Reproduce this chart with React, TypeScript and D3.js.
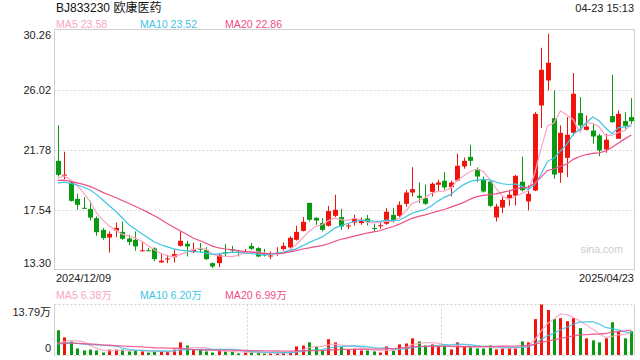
import React from "react";
import * as d3 from "d3";

// ---- data ----
const opens = [20.98,19.95,19.45,18.29,17.66,17.57,16.93,16.10,15.56,16.05,15.96,15.49,15.40,14.62,14.66,14.79,13.80,14.02,14.17,14.97,15.12,14.53,14.78,14.69,13.75,13.75,14.52,14.71,14.55,14.55,14.97,14.81,14.46,14.25,14.42,14.74,14.86,15.40,16.03,18.01,16.95,16.58,16.39,17.09,17.00,16.37,16.62,16.58,16.90,16.24,16.39,16.53,17.16,17.09,17.94,18.74,18.51,18.35,18.79,19.29,19.57,19.12,19.59,20.58,21.26,20.39,19.69,19.52,16.98,17.68,18.35,18.51,19.50,18.11,18.88,24.89,26.66,23.99,20.13,21.19,22.96,24.35,23.17,23.12,22.77,21.78,24.14,22.54,23.79,24.07];
const highs = [23.50,21.62,19.50,18.65,18.42,18.15,17.05,16.22,15.99,16.62,16.69,15.75,15.99,15.31,14.83,14.86,14.46,14.34,14.74,15.99,15.33,15.21,15.17,14.88,13.80,14.46,15.09,14.97,14.69,14.76,15.17,14.88,14.76,14.57,14.88,15.21,15.65,16.39,17.00,18.01,17.00,16.93,17.80,18.58,17.59,16.58,17.16,16.98,17.16,16.53,16.62,17.64,17.66,18.11,18.93,20.53,19.45,19.29,19.45,19.64,20.18,19.57,21.48,21.21,22.11,20.51,19.87,19.64,17.94,18.42,18.93,19.99,21.27,19.24,24.42,28.97,29.96,25.95,23.48,24.07,27.18,25.48,24.18,23.59,22.89,22.89,27.06,24.54,24.42,25.41];
const lows = [19.87,19.69,18.10,17.52,17.60,16.76,15.68,15.40,14.50,15.59,15.40,15.02,14.62,14.57,14.60,13.89,13.78,13.75,13.79,14.93,14.22,14.46,14.46,13.98,13.40,13.47,14.25,14.50,14.22,14.46,14.69,14.17,14.22,14.03,14.27,14.64,14.76,15.35,15.99,16.69,16.46,15.99,16.34,17.00,16.10,16.15,16.41,16.46,16.41,16.01,16.17,16.46,16.62,17.00,17.73,18.46,17.99,17.87,18.46,18.81,18.93,18.46,19.52,20.42,20.63,19.48,18.74,17.71,16.69,17.28,17.80,17.82,18.82,17.47,18.84,23.31,25.95,19.71,19.43,19.83,22.77,23.12,23.12,22.18,21.31,21.55,23.67,22.54,23.24,23.59];
const closes = [19.99,20.00,18.15,17.87,17.62,16.97,15.94,15.52,15.82,16.24,15.47,15.24,14.93,14.66,14.62,14.03,13.92,14.08,14.39,15.33,14.93,14.71,14.74,14.03,13.51,14.34,14.48,14.67,14.47,14.59,14.76,14.22,14.30,14.29,14.48,14.97,15.54,15.96,16.67,16.81,16.76,16.10,17.43,17.52,16.34,16.41,16.90,16.81,16.67,16.20,16.43,17.38,16.81,17.87,18.74,18.98,18.37,17.94,19.36,19.45,19.10,19.45,20.63,20.98,20.98,19.87,18.81,17.80,17.75,18.22,18.58,19.92,18.90,18.65,24.30,27.41,27.91,20.01,22.96,22.82,25.72,23.48,23.40,22.70,21.71,22.47,23.71,24.30,23.45,23.78];
// volume in 万
const volumes = [6.83,4.90,3.80,1.90,1.37,1.60,1.37,0.80,1.60,1.60,1.60,1.10,1.40,1.10,0.80,1.10,1.10,1.10,1.60,3.55,2.70,1.60,1.60,1.10,0.80,1.37,1.10,1.10,0.55,0.80,0.80,0.80,0.55,0.55,0.55,0.80,1.00,2.45,2.70,3.55,2.35,1.37,4.40,3.55,2.25,1.64,1.85,1.37,1.37,1.10,0.80,2.45,1.37,3.00,3.25,4.64,3.80,2.70,3.00,2.45,2.70,1.64,3.55,2.45,2.20,1.90,1.90,2.70,1.64,1.90,1.90,1.90,3.80,3.55,9.84,13.79,12.30,9.84,10.10,9.30,10.10,7.40,4.64,4.10,3.55,4.64,9.00,6.56,4.64,6.56];
// closes / volumes before the visible window (estimated from where the MA curves start)
const priorCloses = [19.6,19.9,20.1,19.8,19.7,20.0,19.9,19.6,19.7,19.7,19.3,19.1,18.9,19.0,18.95,19.2,19.5,19.9,20.16];
const priorVolumes = [3.5,3.8,3.2,3.4,3.6,3.3,3.5,3.7,3.4,3.6,3.2,2.8,3.0,3.1,2.9,2.0,2.5,2.2,2.47];

const priceTicks = [30.26, 26.02, 21.78, 17.54, 13.30];
const volMax = 13.79;
const title = "BJ833230 欧康医药";
const timeLabel = "04-23 15:13";
const startLabel = "2024/12/09";
const endLabel = "2025/04/23";
const priceMaLabels = ["MA5 23.58", "MA10 23.52", "MA20 22.86"];
const volMaLabels = ["MA5 6.38万", "MA10 6.20万", "MA20 6.99万"];
const maPeriods = [5, 10, 20];

const maColors = ["#f9a6c3", "#3fc3e6", "#ee4f86"];
const RED = "#f0140c";
const GREEN = "#0a9a12";
const FONT = "Arial, 'Liberation Sans', 'Noto Sans CJK SC', sans-serif";

function movingAvg(prior: number[], vals: number[], n: number): number[] {
  const all = prior.concat(vals);
  const off = prior.length;
  return vals.map((_, i) => {
    const end = i + off;
    const seg = all.slice(Math.max(0, end - n + 1), end + 1);
    return d3.mean(seg) as number;
  });
}

export default function App() {
  const L = 54.5, R = 634.5, T = 29.5, B = 269.5;
  const VT = 304.5, VB = 355.5;
  const idx = d3.range(closes.length);
  const x = d3.scaleBand<number>().domain(idx).range([L, R]);
  const bw = x.bandwidth();
  const cx = (i: number) => (x(i) as number) + bw / 2;
  const y = d3.scaleLinear().domain([priceTicks[4], priceTicks[0]]).range([B, T]);
  const yv = d3.scaleLinear().domain([0, volMax]).range([VB, VT]);

  const priceMAs = maPeriods.map((n) => movingAvg(priorCloses, closes, n));
  const volMAs = maPeriods.map((n) => movingAvg(priorVolumes, volumes, n));
  const line = (sc: d3.ScaleLinear<number, number>) =>
    d3.line<number>().x((_, i) => cx(i)).y((d) => sc(d));

  const bodyW = 5;
  const volW = 3;
  const gridX = [30, 60].map((k) => L + bw * k - 0.5);

  return (
    <svg width={640} height={360} style={{ position: "absolute", left: 0, top: 0, background: "#fff" }} fontFamily={FONT}>
      <text x={56} y={12} fontSize={12} fill="#111">{title}</text>
      <text x={634} y={11.7} fontSize={11} fill="#222" textAnchor="end">{timeLabel}</text>
      {priceMaLabels.map((t, k) => (
        <text key={t} x={[56, 140, 225][k]} y={28} fontSize={10.6} fill={maColors[k]}>{t}</text>
      ))}
      {/* price grid */}
      {priceTicks.slice(1, 4).map((v) => (
        <line key={v} x1={L} x2={R} y1={Math.round(y(v)) + 0.5} y2={Math.round(y(v)) + 0.5} stroke="#d6d6d6" strokeDasharray="2,2" />
      ))}
      <rect x={L} y={T} width={R - L} height={B - T} fill="none" stroke="#cfcfcf" />
      {priceTicks.map((v, k) => (
        <text key={v} x={51} y={k === 0 ? T + 9 : k === 4 ? B - 2.5 : y(v) + 4} fontSize={11} fill="#222" textAnchor="end">{v.toFixed(2)}</text>
      ))}
      <text x={623} y={253} fontSize={10.6} fill="#cccccc" textAnchor="end">sina.com</text>
      {/* candles */}
      {idx.map((i) => {
        const up = closes[i] >= opens[i];
        const c = up ? RED : GREEN;
        const top = y(Math.max(opens[i], closes[i]));
        const bot = y(Math.min(opens[i], closes[i]));
        const xm = Math.round(cx(i)) + 0.5;
        return (
          <g key={i}>
            <line x1={xm} x2={xm} y1={y(highs[i])} y2={y(lows[i])} stroke={c} strokeWidth={1} />
            <rect x={xm - bodyW / 2} y={top} width={bodyW} height={Math.max(1, bot - top)} fill={c} />
          </g>
        );
      })}
      {priceMAs.map((m, k) => (
        <path key={k} d={line(y)(m) as string} fill="none" stroke={maColors[k]} strokeWidth={1.2} />
      ))}
      <text x={56} y={281.5} fontSize={11} fill="#222">{startLabel}</text>
      <text x={634} y={281.5} fontSize={11} fill="#222" textAnchor="end">{endLabel}</text>

      {/* volume panel */}
      {volMaLabels.map((t, k) => (
        <text key={t} x={[56, 140, 225][k]} y={299} fontSize={10.6} fill={maColors[k]}>{t}</text>
      ))}
      <line x1={L} x2={R} y1={VT} y2={VT} stroke="#cfcfcf" strokeDasharray="2,2" />
      <line x1={L} x2={R} y1={VB} y2={VB} stroke="#cfcfcf" strokeDasharray="2,2" />
      {gridX.map((gx) => (
        <line key={gx} x1={Math.round(gx) + 0.5} x2={Math.round(gx) + 0.5} y1={VT} y2={VB} stroke="#d0d0d0" strokeDasharray="2,2" />
      ))}
      <line x1={L} x2={L} y1={VT} y2={VB} stroke="#cfcfcf" />
      <line x1={R} x2={R} y1={VT} y2={VB} stroke="#cfcfcf" />
      <text x={51} y={315.5} fontSize={11} fill="#222" textAnchor="end">{volMax.toFixed(2)}万</text>
      <text x={51} y={351.7} fontSize={11} fill="#222" textAnchor="end">0</text>
      {idx.map((i) => {
        const up = closes[i] >= opens[i];
        const xm = Math.round(cx(i));
        return (
          <rect key={i} x={xm - volW / 2 + 0.5} y={yv(volumes[i])} width={volW} height={VB - 0.5 - yv(volumes[i])} fill={up ? RED : GREEN} />
        );
      })}
      {volMAs.map((m, k) => (
        <path key={k} d={line(yv)(m) as string} fill="none" stroke={maColors[k]} strokeWidth={1.3} opacity={0.85} />
      ))}
    </svg>
  );
}
